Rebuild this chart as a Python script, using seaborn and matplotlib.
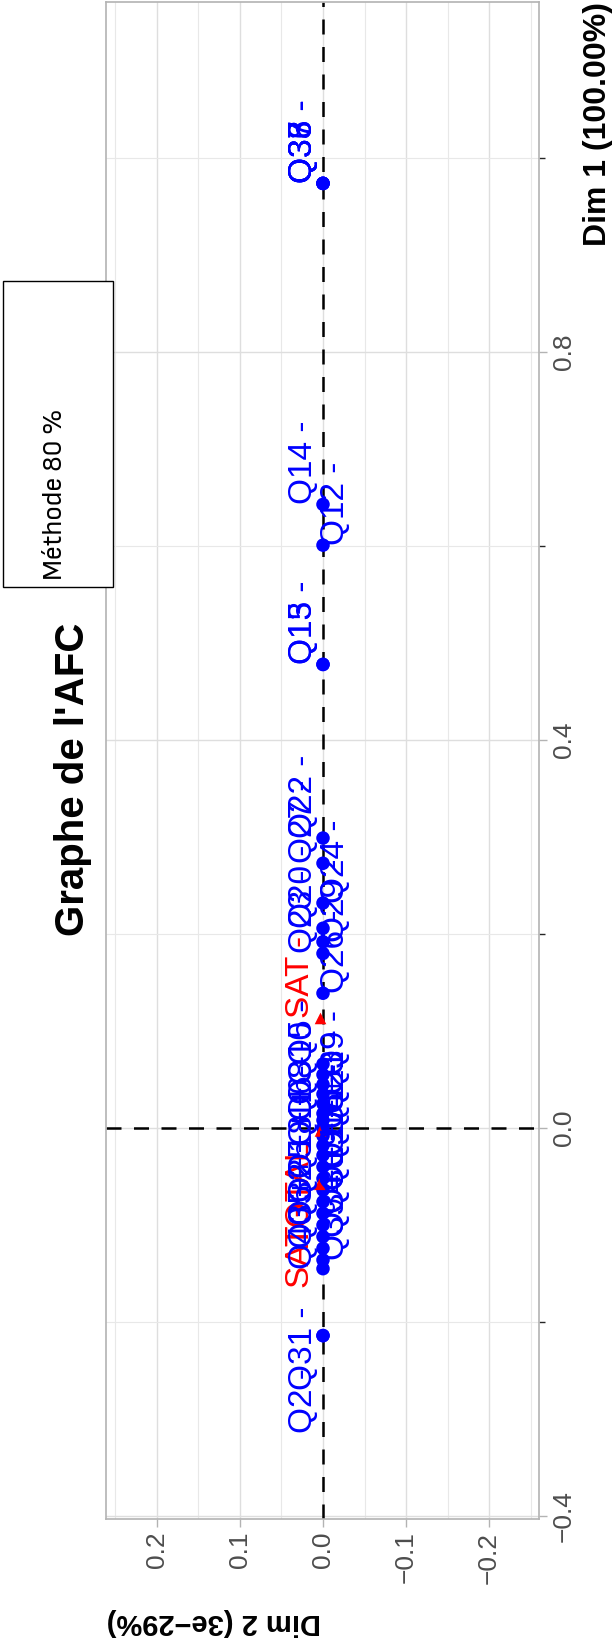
import numpy as np
import pandas as pd
import seaborn as sns
import matplotlib.pyplot as plt
from matplotlib import font_manager

# column points (questions): label, Dim 1, Dim 2, side of the label, Dim 1 where the label starts
col_labels = ["Q33 -", "Q36 -", "Q37 -", "Q38 -", "Q14 -", "Q12 -", "Q13 -", "Q15 -",
              "Q22 -", "Q27 -", "Q24 -", "Q20 -", "Q29 -", "Q23 -", "Q26 -",
              "Q5 -", "Q9 -", "Q10 -", "Q3 -", "Q8 -", "Q21 -", "Q6 -", "Q1 -",
              "Q4 +", "Q11 -", "Q16 +", "Q17 +", "Q18 +", "Q19 +", "Q25 +", "Q30 +",
              "Q32 +", "Q34 +", "Q35 +", "Q39 +", "Q40 +", "Q2 -", "Q31 -"]
col_dim1 = [0.974, 0.974, 0.974, 0.974, 0.643, 0.601, 0.478, 0.478,
            0.299, 0.273, 0.232, 0.206, 0.192, 0.180, 0.139,
            0.066, 0.055, 0.045, 0.035, 0.025, 0.015, 0.008, 0.000,
            -0.008, -0.018, -0.028, -0.040, -0.052, -0.064, -0.076, -0.088,
            -0.100, -0.112, -0.124, -0.136, -0.145, -0.214, -0.214]
col_dim2 = [0.0] * len(col_dim1)
col_side = ["L", "L", "L", "L", "L", "R", "L", "L",
            "L", "L", "R", "L", "R", "L", "R",
            "L", "R", "L", "R", "L", "R", "L", "R",
            "R", "L", "R", "R", "L", "R", "L", "R",
            "L", "R", "L", "R", "L", "L", "L"]
col_lab_dim1 = col_dim1[:-2] + [-0.314, -0.270]

# row points (satisfaction)
row_labels = ["SAT -", "SAT +", "TOTAL"]
row_dim1 = [0.113, -0.003, -0.058]
row_dim2 = [0.003, 0.003, 0.004]
row_lab_dim1 = [0.113, -0.165, -0.122]

cols = pd.DataFrame({"label": col_labels, "dim1": col_dim1, "dim2": col_dim2,
                     "side": col_side, "lab1": col_lab_dim1})
rows = pd.DataFrame({"label": row_labels, "dim1": row_dim1, "dim2": row_dim2, "lab1": row_lab_dim1})

sns.set_theme(style="whitegrid")
plt.rcParams['font.family'] = ['Liberation Sans', 'DejaVu Sans']

# a narrow face for the box text, if one is installed
narrow = None
for f in font_manager.fontManager.ttflist:
    st = str(f.stretch)
    if ("Narrow" in f.name or "Condensed" in f.name or st in ("condensed", "semi-condensed", "extra-condensed")
            or (st.isdigit() and int(st) < 500)) and f.style == "normal" and f.weight in (400, "normal", "regular"):
        if narrow is None or "Sans" in f.name:
            narrow = f.fname
box_font = font_manager.FontProperties(fname=narrow, size=20.5) if narrow else \
    font_manager.FontProperties(family="Liberation Sans", size=19)

W, H = 615, 1641
fig = plt.figure(figsize=(W / 100, H / 100), dpi=100)
ax = fig.add_axes([106 / W, 1 - 1519 / H, (539 - 106) / W, (1519 - 2) / H])

# the chart is turned a quarter turn: Dim 1 runs upwards, Dim 2 runs to the left
ax.set_xlim(0.2614, -0.2602)
ax.set_ylim(-0.4031, 1.161)

ax.set_xticks([0.2, 0.1, 0.0, -0.1, -0.2])
ax.set_xticks([0.25, 0.15, 0.05, -0.05, -0.15, -0.25], minor=True)
ax.set_yticks([-0.4, 0.0, 0.4, 0.8])
ax.set_yticks([-0.2, 0.2, 0.6, 1.0], minor=True)
ax.grid(True, which="major", color="#DEDEDE", linewidth=1.0)
ax.grid(True, which="minor", color="#E8E8E8", linewidth=0.8)
ax.set_axisbelow(True)
for s in ax.spines.values():
    s.set_color("#B3B3B3")
    s.set_linewidth(1.2)

ax.axhline(0, color="black", linestyle=(0, (6, 5)), linewidth=1.8, zorder=1)
ax.axvline(0, color="black", linestyle=(0, (6, 5)), linewidth=1.8, zorder=1)

sns.scatterplot(data=cols, x="dim2", y="dim1", color="blue", s=95, edgecolor="none", ax=ax, zorder=3)
sns.scatterplot(data=rows, x="dim2", y="dim1", color="red", marker="^", s=70, edgecolor="none", ax=ax, zorder=3)

lab_size = 24
for _, r in rows.iterrows():
    ax.annotate(r.label, (r.dim2, r.lab1), xytext=(-3, 0), textcoords="offset points",
                rotation=90, ha="right", va="bottom", color="red", fontsize=lab_size, zorder=4)
for _, r in cols.iterrows():
    if r.side == "L":
        ax.annotate(r.label, (r.dim2, r.lab1), xytext=(-3, 0), textcoords="offset points",
                    rotation=90, ha="right", va="bottom", color="blue", fontsize=lab_size, zorder=4)
    else:
        ax.annotate(r.label, (r.dim2, r.lab1), xytext=(-2, 0), textcoords="offset points",
                    rotation=90, ha="left", va="bottom", color="blue", fontsize=lab_size, zorder=4)

ax.yaxis.tick_right()
ax.tick_params(axis="both", which="major", colors="#B3B3B3", labelcolor="#4D4D4D",
               labelsize=19, length=6, width=1.0, pad=3)
ax.tick_params(axis="x", bottom=True)
ax.tick_params(axis="y", right=True)
ax.set_xticklabels(["0.2", "0.1", "0.0", "\u22120.1", "\u22120.2"], rotation=90)
ax.set_yticklabels(["\u22120.4", "0.0", "0.4", "0.8"], rotation=90, va="center")
ax.set_xlabel("")
ax.set_ylabel("")

fig.text(613 / W, 1 - 2 / H, "Dim 1 (100.00%)", rotation=90, ha="right", va="top",
         fontsize=23, fontweight="bold", color="black")
fig.text(107 / W, 1 - 1622 / H, "Dim 2 (3e\u221229%)", rotation=180, ha="left", va="center",
         fontsize=21, fontweight="bold", color="black")
fig.text(73 / W, 1 - 779 / H, "Graphe de l'AFC", rotation=90, ha="center", va="center",
         fontsize=29, fontweight="bold", color="black")

fig.patches.append(plt.Rectangle((3 / W, 1 - 587 / H), 110 / W, 306 / H, transform=fig.transFigure,
                                 facecolor="white", edgecolor="black", linewidth=1.0, zorder=5))
fig.text(55 / W, 1 - 494 / H, "Méthode 80 %", rotation=90, ha="center", va="center",
         fontproperties=box_font, color="black", zorder=6)

fig.savefig("out.png", dpi=100)
